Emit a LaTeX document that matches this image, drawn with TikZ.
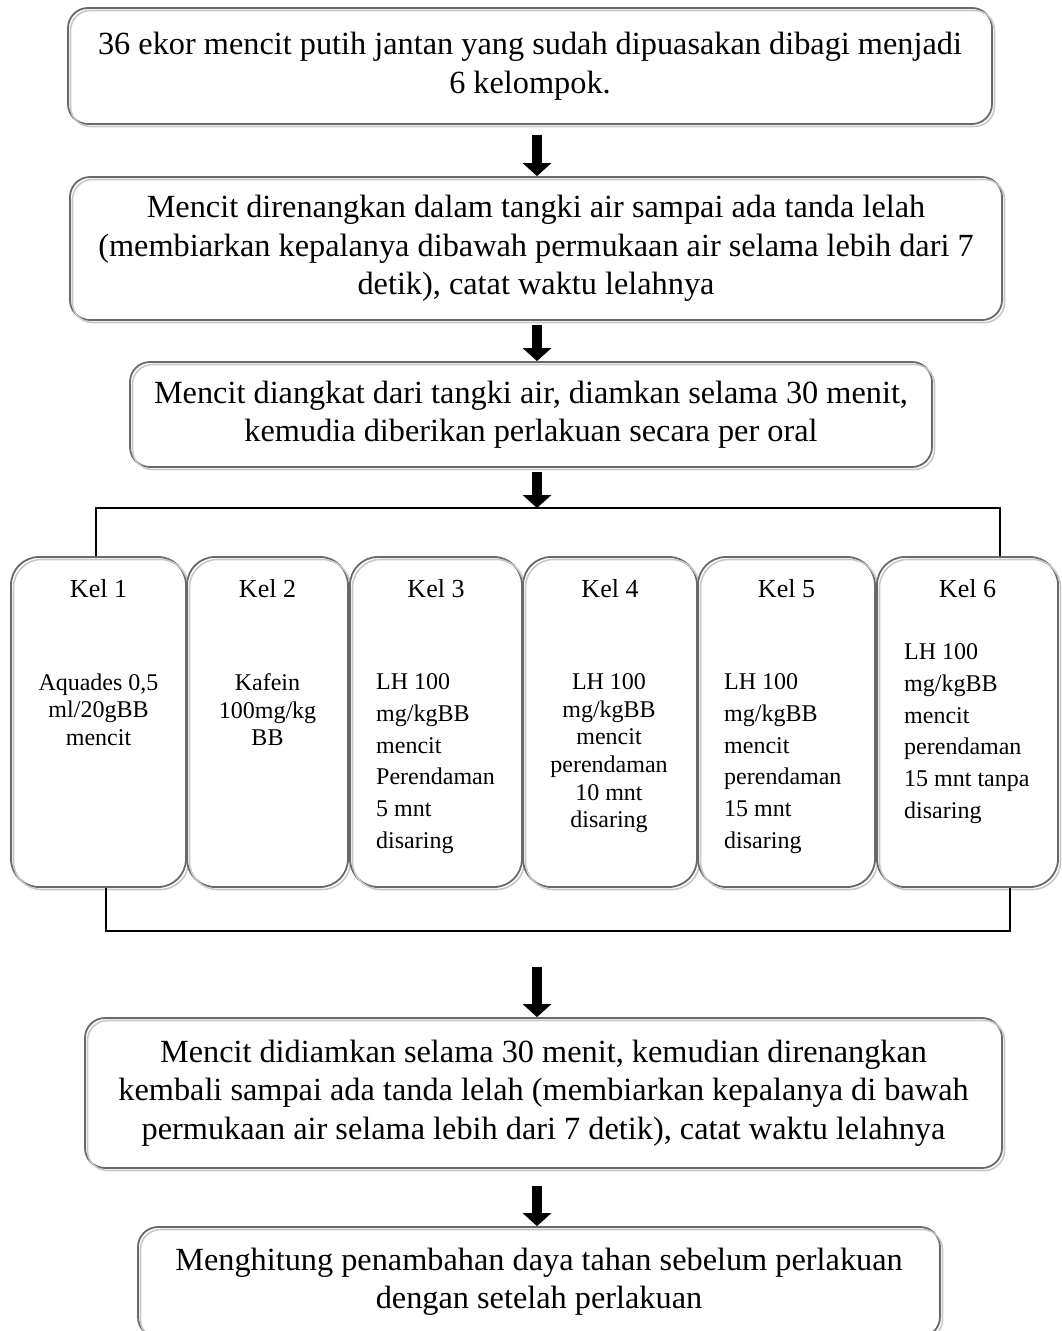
\documentclass[tikz,border=0pt]{standalone}
\usepackage{fontspec}
\setmainfont{Liberation Serif}
\usetikzlibrary{arrows.meta}

\definecolor{boxline}{RGB}{105,105,105}
\definecolor{boxshade}{RGB}{200,200,200}

\tikzset{
    stepbox/.style={draw=boxline, line width=1.8pt, fill=white, rounded corners=20pt,
        inner sep=0pt, align=center, font=\fontsize{32.3}{38.5}\selectfont,
        postaction={draw=boxshade, line width=1.6pt, transform canvas={shift={(2.5pt,-2.5pt)}}}},
    kelbox/.style={stepbox, rounded corners=28pt, minimum height=330pt},
    kellabel/.style={inner sep=0pt, anchor=base, font=\fontsize{26}{30}\selectfont},
    keltext/.style={inner sep=0pt, font=\fontsize{24}{27.6}\selectfont},
    kellist/.style={inner sep=0pt, align=left, anchor=north west, font=\fontsize{24}{31.7}\selectfont},
    bigarrow/.style={line width=9.5pt, -{Triangle[width=28pt, length=13pt]}},
    bracket/.style={line width=1.4pt}
}

\begin{document}
\begin{tikzpicture}[x=1pt, y=-1pt]

    \useasboundingbox (0,0) rectangle (1062,1331);
    \coordinate (axis) at (537,0);

    % main steps
    \node[stepbox, minimum width=924pt, minimum height=116pt] (box1) at (530,66)
        {36 ekor mencit putih jantan yang sudah dipuasakan dibagi menjadi\\6 kelompok.};
    \node[stepbox, minimum width=932pt, minimum height=143pt] (box2) at (536,248.5)
        {Mencit direnangkan dalam tangki air sampai ada tanda lelah\\(membiarkan kepalanya dibawah permukaan air selama lebih dari 7\\detik), catat waktu lelahnya};
    \node[stepbox, minimum width=802pt, minimum height=105pt] (box3) at (531,414.5)
        {Mencit diangkat dari tangki air, diamkan selama 30 menit,\\kemudia diberikan perlakuan secara per oral};

    % groups
    \node[kelbox, minimum width=175pt] (kel1) at (98.5,722) {};
    \node[kelbox, minimum width=161pt] (kel2) at (267.5,722) {};
    \node[kelbox, minimum width=172pt] (kel3) at (436,722) {};
    \node[kelbox, minimum width=174pt] (kel4) at (610,722) {};
    \node[kelbox, minimum width=177pt] (kel5) at (786.5,722) {};
    \node[kelbox, minimum width=181pt] (kel6) at (967.5,722) {};

    \foreach \k in {1,...,6}
        \node[kellabel] (lab\k) at ([yshift=-41pt]kel\k.north) {Kel \k};

    \node[keltext, align=center, anchor=north] (txt1) at (98.5,673.5) {Aquades 0,5\\ml/20gBB\\mencit};
    \node[keltext, align=center, anchor=north] (txt2) at (267.5,673.5) {Kafein\\100mg/kg\\BB};
    \node[kellist] (txt3) at (376,673.5) {LH 100\\mg/kgBB\\mencit\\Perendaman\\5 mnt\\disaring};
    \node[keltext, align=center, anchor=north] (txt4) at (609,673.5) {LH 100\\mg/kgBB\\mencit\\perendaman\\10 mnt\\disaring};
    \node[kellist] (txt5) at (724,673.5) {LH 100\\mg/kgBB\\mencit\\perendaman\\15 mnt\\disaring};
    \node[kellist] (txt6) at (904,643.5) {LH 100\\mg/kgBB\\mencit\\perendaman\\15 mnt tanpa\\disaring};

    \coordinate (tl) at (96,508);
    \coordinate (tr) at (1000,508);
    \coordinate (bl) at (106,931);
    \coordinate (br) at (1010,931);
    \draw[bracket] (kel1.north -| tl) -- (tl) -- (tr) -- (kel6.north -| tr);
    \draw[bracket] (kel1.south -| bl) -- (bl) -- (br) -- (kel6.south -| br);

    % last steps
    \node[stepbox, minimum width=917pt, minimum height=150pt] (box4) at (543.5,1093)
        {Mencit didiamkan selama 30 menit, kemudian direnangkan\\kembali sampai ada tanda lelah (membiarkan kepalanya di bawah\\permukaan air selama lebih dari 7 detik), catat waktu lelahnya};
    \node[stepbox, minimum width=802pt, minimum height=110pt] (box5) at (539,1282)
        {Menghitung penambahan daya tahan sebelum perlakuan\\dengan setelah perlakuan};

    \draw[bigarrow] ([yshift=-10pt]box1.south -| axis) -- (box2.north -| axis);
    \draw[bigarrow] ([yshift=-4pt]box2.south -| axis) -- (box3.north -| axis);
    \draw[bigarrow] ([yshift=-4pt]box3.south -| axis) -- (tl -| axis);
    \draw[bigarrow] ([yshift=-36pt]bl -| axis) -- (box4.north -| axis);
    \draw[bigarrow] ([yshift=-17pt]box4.south -| axis) -- (box5.north -| axis);

\end{tikzpicture}
\end{document}
